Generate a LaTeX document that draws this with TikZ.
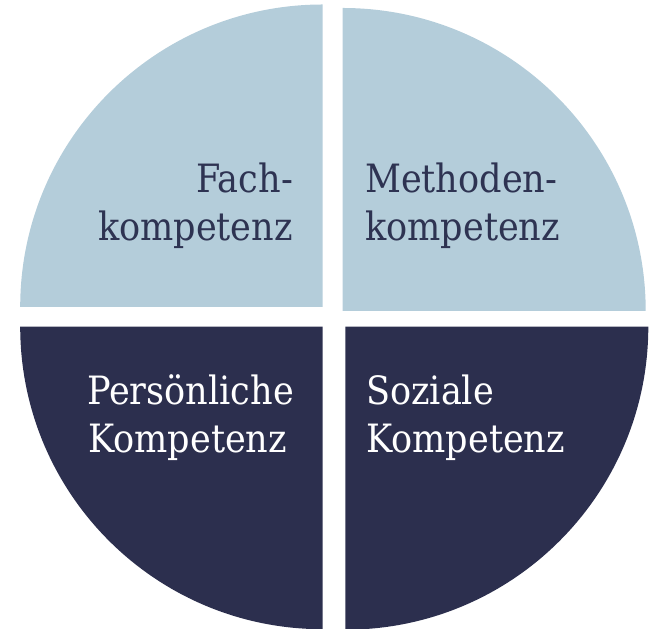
\documentclass[tikz,border=0pt]{standalone}
\usepackage{fontspec}
\setmainfont{DejaVu Serif Condensed}
\definecolor{lightq}{HTML}{B4CDDA}
\definecolor{darkq}{HTML}{2C2F4E}
\definecolor{darktext}{HTML}{2E3352}
\begin{document}
\begin{tikzpicture}[x=1pt,y=1pt,
  lbl/.style={inner sep=0pt,font=\fontsize{39}{46}\selectfont},
  onlight/.style={lbl,text=darktext},
  ondark/.style={lbl,text=white}]
\useasboundingbox (0,0) rectangle (652,628);
% quadrants
\fill[lightq] (322.7,321) -- (20.2,321) arc[start angle=180,end angle=90,radius=302.5] -- cycle;
\fill[lightq] (342.7,317) -- (342.7,620) arc[start angle=90,end angle=0,radius=303] -- cycle;
\fill[darkq] (322.7,301.3) -- (322.7,-1.2) arc[start angle=270,end angle=180,radius=302.5] -- cycle;
\fill[darkq] (345.3,301.3) -- (648.3,301.3) arc[start angle=0,end angle=-90,radius=303] -- cycle;
% labels
\node[onlight,anchor=base east] (f1) at (293,435) {Fach-};
\node[onlight,anchor=base east] (f2) at (293,387) {kompetenz};
\node[onlight,anchor=base west] (m1) at (365,435) {Methoden-};
\node[onlight,anchor=base west] (m2) at (365,387) {kompetenz};
\node[ondark,anchor=base west] (p1) at (87,223) {Persönliche};
\node[ondark,anchor=base west] (p2) at (88,175) {Kompetenz};
\node[ondark,anchor=base west] (s1) at (366,223) {Soziale};
\node[ondark,anchor=base west] (s2) at (366,175) {Kompetenz};
\end{tikzpicture}
\end{document}
